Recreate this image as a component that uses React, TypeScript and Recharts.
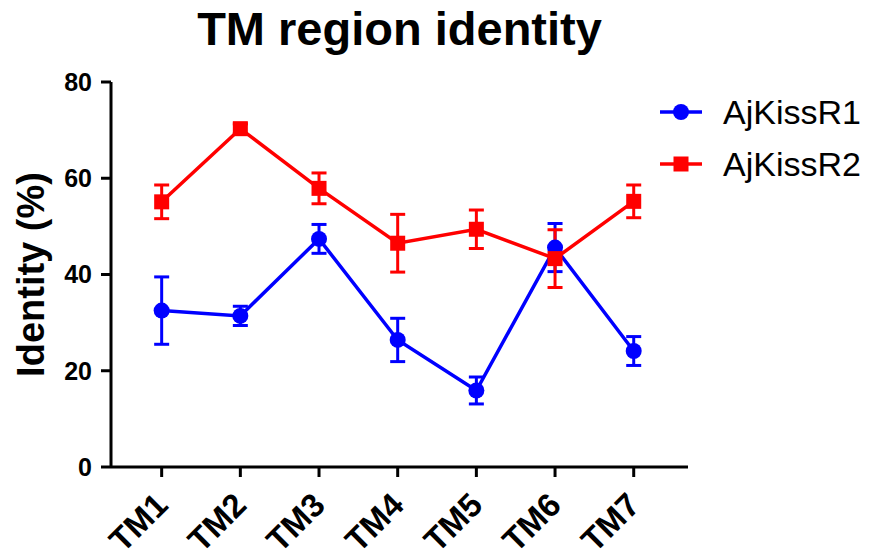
import { ErrorBar, Line, LineChart, XAxis, YAxis } from "recharts"

const categories = ["TM1", "TM2", "TM3", "TM4", "TM5", "TM6", "TM7"]
const kissR1 = [32.5, 31.4, 47.4, 26.4, 15.9, 45.6, 24.1]
const kissR1Err = [7.0, 2.0, 3.0, 4.5, 2.8, 5.0, 3.0]
const kissR2 = [55.1, 70.3, 57.9, 46.5, 49.4, 43.3, 55.2]
const kissR2Err = [3.5, 1.0, 3.2, 6.0, 4.0, 6.0, 3.4]
const yTicks = [0, 20, 40, 60, 80]
const seriesNames = ["AjKissR1", "AjKissR2"]

const BLUE = "#0000FF"
const RED = "#FF0000"
const FONT = "'Liberation Sans', Arial, Helvetica, sans-serif"

const data = categories.map((name, i) => ({
  x: i + 1,
  name,
  r1: kissR1[i],
  r1Err: kissR1Err[i],
  r2: kissR2[i],
  r2Err: kissR2Err[i],
}))

function SquareDot(props: any) {
  const { cx, cy } = props
  if (cx == null || cy == null) return null
  return <rect x={cx - 7.5} y={cy - 7.5} width={15} height={15} fill={RED} />
}

function RoundDot(props: any) {
  const { cx, cy } = props
  if (cx == null || cy == null) return null
  return <circle cx={cx} cy={cy} r={8} fill={BLUE} />
}

function XTick(props: any) {
  const { x, y, payload } = props
  const label = categories[payload.value - 1]
  const ax = x + 8
  const ay = y + 30
  return (
    <text
      x={ax}
      y={ay}
      textAnchor="end"
      transform={`rotate(-45, ${ax}, ${ay})`}
      fontSize={33}
      fontWeight="bold"
      fontFamily={FONT}
      fill="#000"
    >
      {label}
    </text>
  )
}

// legend drawn as plain html so it doesn't eat into the plot area
function LegendBox() {
  const items = [
    { label: seriesNames[0], color: BLUE, square: false },
    { label: seriesNames[1], color: RED, square: true },
  ]
  return (
    <div style={{ position: "absolute", left: 655, top: 86, fontFamily: FONT }}>
      {items.map((it) => (
        <div key={it.label} style={{ display: "flex", alignItems: "center", height: 52 }}>
          <svg width={68} height={52}>
            <line x1={5} x2={47} y1={26} y2={26} stroke={it.color} strokeWidth={3.5} />
            {it.square ? (
              <rect x={18.5} y={18.5} width={15} height={15} fill={it.color} />
            ) : (
              <circle cx={26} cy={26} r={8} fill={it.color} />
            )}
          </svg>
          <span style={{ fontSize: 34, color: "#000", lineHeight: "52px" }}>{it.label}</span>
        </div>
      ))}
    </div>
  )
}

export default function App() {
  return (
    <div style={{ position: "absolute", left: 0, top: 0, width: 878, height: 559, background: "#fff" }}>
      <div
        style={{
          position: "absolute",
          left: 111,
          top: 5,
          width: 577,
          textAlign: "center",
          fontFamily: FONT,
          fontWeight: "bold",
          fontSize: 47,
          lineHeight: "47px",
          color: "#000",
        }}
      >
        TM region identity
      </div>
      <LineChart
        width={878}
        height={559}
        data={data}
        margin={{ top: 82, right: 190, bottom: 12, left: 41 }}
      >
        <XAxis
          dataKey="x"
          type="number"
          domain={[0.356, 7.69]}
          ticks={[1, 2, 3, 4, 5, 6, 7]}
          allowDataOverflow
          height={80}
          axisLine={{ stroke: "#000", strokeWidth: 3 }}
          tickLine={{ stroke: "#000", strokeWidth: 3 }}
          tickSize={10}
          tickMargin={0}
          tick={<XTick />}
          interval={0}
        />
        <YAxis
          domain={[0, 80]}
          ticks={yTicks}
          width={70}
          axisLine={{ stroke: "#000", strokeWidth: 3 }}
          tickLine={{ stroke: "#000", strokeWidth: 3 }}
          tickSize={10}
          tickMargin={9}
          tick={{ fontSize: 25, fontWeight: "bold", fill: "#000", fontFamily: FONT }}
          label={{
            content: (p: any) => {
              const vb = p.viewBox || {}
              const cx = 31
              const cy = (vb.y ?? 82) + (vb.height ?? 385) / 2
              return (
                <text
                  x={cx}
                  y={cy}
                  transform={`rotate(-90, ${cx}, ${cy})`}
                  textAnchor="middle"
                  dominantBaseline="central"
                  fontSize={38}
                  fontWeight="bold"
                  fontFamily={FONT}
                  fill="#000"
                >
                  Identity (%)
                </text>
              )
            },
          }}
        />
        <Line
          dataKey="r1"
          name={seriesNames[0]}
          stroke={BLUE}
          strokeWidth={3.5}
          dot={<RoundDot />}
          activeDot={false}
          isAnimationActive={false}
        >
          <ErrorBar dataKey="r1Err" direction="y" width={7.5} stroke={BLUE} strokeWidth={3} />
        </Line>
        <Line
          dataKey="r2"
          name={seriesNames[1]}
          stroke={RED}
          strokeWidth={3.5}
          dot={<SquareDot />}
          activeDot={false}
          isAnimationActive={false}
        >
          <ErrorBar dataKey="r2Err" direction="y" width={7.5} stroke={RED} strokeWidth={3} />
        </Line>
      </LineChart>
      <LegendBox />
    </div>
  )
}
